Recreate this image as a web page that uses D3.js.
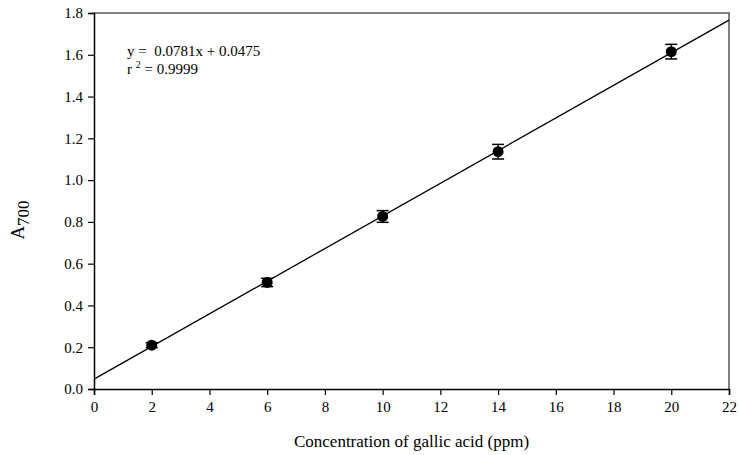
<!DOCTYPE html>
<html>
<head>
<meta charset="utf-8">
<script src="https://cdn.jsdelivr.net/npm/d3@7.9.0/dist/d3.min.js"></script>
<style>
  body { margin: 0; background: #fff; }
  svg text { font-family: "Liberation Serif", "Times New Roman", serif; fill: #000; white-space: pre; }
</style>
</head>
<body>
<svg width="738" height="455"></svg>
<script>
// data
let concentrations = [2, 6, 10, 14, 20];
let absorbances = [0.21, 0.51, 0.826, 1.136, 1.615];
let errors = [0.012, 0.02, 0.028, 0.035, 0.035];
let xTicks = [0, 2, 4, 6, 8, 10, 12, 14, 16, 18, 20, 22];
let yTicks = [0, 0.2, 0.4, 0.6, 0.8, 1.0, 1.2, 1.4, 1.6, 1.8];
let slope = 0.0781;
let intercept = 0.0475;

let serif = 'Liberation Serif';

let margin = { top: 13, right: 9, bottom: 66, left: 94 };
let width = 738 - margin.left - margin.right;
let height = 455 - margin.top - margin.bottom;

let svg = d3.select('svg');
let g = svg.append('g').attr('transform', `translate(${margin.left},${margin.top})`);

let x = d3.scaleLinear().domain([0, 22]).range([0, width]);
let y = d3.scaleLinear().domain([0, 1.8]).range([height, 0]);

// top and right frame
g.append('path')
  .attr('d', `M0,0H${width}V${height}`)
  .attr('fill', 'none')
  .attr('stroke', '#555')
  .attr('stroke-width', 1.5);

let xAxis = g.append('g')
  .attr('transform', `translate(0,${height})`)
  .call(d3.axisBottom(x).tickValues(xTicks).tickSize(6).tickPadding(6).tickFormat(d3.format('d')));

let yAxis = g.append('g')
  .call(d3.axisLeft(y).tickValues(yTicks).tickSize(6).tickPadding(5).tickFormat(d3.format('.1f')));

[xAxis, yAxis].forEach(a => {
  a.attr('font-family', serif).attr('font-size', 15);
  a.select('.domain').attr('stroke', '#000').attr('stroke-width', 1.5);
  a.selectAll('.tick line').attr('stroke', '#000').attr('stroke-width', 1.2);
  a.selectAll('.tick text').attr('fill', '#000');
});

// regression line
g.append('line')
  .attr('x1', x(0)).attr('y1', y(intercept))
  .attr('x2', x(22)).attr('y2', y(slope * 22 + intercept))
  .attr('stroke', '#000')
  .attr('stroke-width', 1.3);

let points = concentrations.map((c, i) => ({ c, a: absorbances[i], e: errors[i] }));

// error bars
let bars = g.selectAll('.err').data(points).enter().append('g').attr('class', 'err');
bars.append('line')
  .attr('x1', d => x(d.c)).attr('x2', d => x(d.c))
  .attr('y1', d => y(d.a - d.e)).attr('y2', d => y(d.a + d.e))
  .attr('stroke', '#000').attr('stroke-width', 1.3);
[-1, 1].forEach(s => {
  bars.append('line')
    .attr('x1', d => x(d.c) - 6).attr('x2', d => x(d.c) + 6)
    .attr('y1', d => y(d.a + s * d.e)).attr('y2', d => y(d.a + s * d.e))
    .attr('stroke', '#000').attr('stroke-width', 1.5);
});

g.selectAll('circle').data(points).enter().append('circle')
  .attr('cx', d => x(d.c))
  .attr('cy', d => y(d.a))
  .attr('r', 5.5)
  .attr('fill', '#000');

// equation
g.append('text').attr('x', 33).attr('y', 43)
  .attr('font-family', serif).attr('font-size', 15)
  .text('y =  0.0781x + 0.0475');
let r2 = g.append('text').attr('x', 33).attr('y', 61)
  .attr('font-family', serif).attr('font-size', 15);
r2.append('tspan').text('r ');
r2.append('tspan').attr('dy', -6).attr('font-size', 10).text('2');
r2.append('tspan').attr('dy', 6).text(' = 0.9999');

// axis titles
svg.append('text')
  .attr('x', margin.left + width / 2)
  .attr('y', 447)
  .attr('text-anchor', 'middle')
  .attr('font-family', serif)
  .attr('font-size', 17)
  .text('Concentration of gallic acid (ppm)');

let yl = svg.append('text')
  .attr('transform', 'translate(24,220) rotate(-90)')
  .attr('text-anchor', 'middle')
  .attr('font-family', serif)
  .attr('font-size', 19);
yl.append('tspan').text('A');
yl.append('tspan').attr('dy', 5).attr('font-size', 17).text('700');
</script>
</body>
</html>
